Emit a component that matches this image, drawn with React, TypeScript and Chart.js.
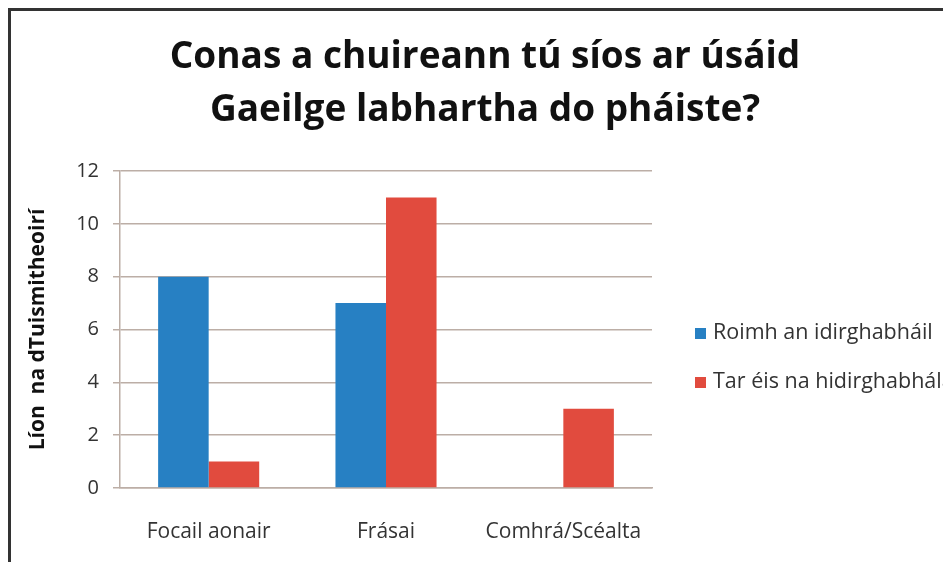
import React, { useEffect, useRef } from "react";
import { Chart, registerables } from "chart.js";

Chart.register(...registerables);

const categories = ["Focail aonair", "Frásai", "Comhrá/Scéalta"];
const seriesBefore = [8, 7, 0];
const seriesAfter = [1, 11, 3];
const seriesLabels = ["Roimh an idirghabháil", "Tar éis na hidirghabhála"];
const titleLines = ["Conas a chuireann tú síos ar úsáid", "Gaeilge labhartha do pháiste?"];
const yAxisTitle = "Líon  na dTuismitheoirí";

const BLUE = "#2780c3";
const RED = "#e14b3e";
const GRID = "#bcaea6";
const FONT = "'Open Sans', Lato, sans-serif";

const titlePlugin = {
  id: "customTitle",
  afterDraw(chart: any) {
    const ctx = chart.ctx;
    ctx.save();
    ctx.font = `bold 37px ${FONT}`;
    ctx.fillStyle = "#111";
    ctx.textAlign = "center";
    ctx.textBaseline = "middle";
    titleLines.forEach((line, i) => {
      ctx.fillText(line, 474, 46 + i * 53);
    });
    ctx.restore();
  },
};

const legendPlugin = {
  id: "customLegend",
  afterDraw(chart: any) {
    const ctx = chart.ctx;
    const ds = chart.data.datasets;
    const x = chart.chartArea.right + 43;
    const startY = 322;
    const gap = 49;
    ctx.save();
    ctx.font = `21.5px ${FONT}`;
    ctx.textBaseline = "middle";
    ctx.textAlign = "left";
    ds.forEach((d: any, i: number) => {
      const y = startY + i * gap;
      ctx.fillStyle = d.backgroundColor;
      ctx.fillRect(x, y - 5, 11, 11);
      ctx.fillStyle = "#333";
      ctx.fillText(d.label, x + 18, y);
    });
    ctx.restore();
  },
};

export default function App() {
  const ref = useRef<HTMLCanvasElement>(null);
  useEffect(() => {
    if (!ref.current) return;
    const chart = new Chart(ref.current, {
      type: "bar",
      data: {
        labels: categories,
        datasets: [
          { label: seriesLabels[0], data: seriesBefore, backgroundColor: BLUE, barPercentage: 1, categoryPercentage: 0.57 },
          { label: seriesLabels[1], data: seriesAfter, backgroundColor: RED, barPercentage: 1, categoryPercentage: 0.57 },
        ],
      },
      options: {
        responsive: false,
        animation: false,
        layout: { padding: { left: 10, right: 299, top: 160, bottom: 18 } },
        plugins: {
          legend: { display: false },
          tooltip: { enabled: false },
          title: { display: false },
        },
        scales: {
          x: {
            grid: { display: false, drawTicks: false },
            border: { display: true, color: GRID, width: 1.5 },
            ticks: { color: "#333", font: { family: FONT, size: 21 }, padding: 31 },
            afterFit(scale: any) {
              scale.height = 56;
            },
          },
          y: {
            min: 0,
            max: 12,
            ticks: { stepSize: 2, color: "#333", font: { family: FONT, size: 20 }, padding: 14 },
            grid: { color: GRID, lineWidth: 1.5, tickLength: 7 },
            border: { display: true, color: GRID, width: 1.5 },
            title: {
              display: true,
              text: yAxisTitle,
              color: "#111",
              font: { family: FONT, size: 21, weight: "bold" },
              padding: { top: 4, bottom: 0 },
            },
            afterFit(scale: any) {
              scale.width = 99;
            },
          },
        },
      },
      plugins: [titlePlugin, legendPlugin],
    });
    return () => chart.destroy();
  }, []);
  return (
    <div
      style={{
        width: 940,
        height: 551,
        borderTop: "3px solid #333",
        borderLeft: "3px solid #333",
        background: "#fff",
        overflow: "hidden",
      }}
    >
      <canvas ref={ref} width={940} height={551} style={{ display: "block" }} />
    </div>
  );
}
